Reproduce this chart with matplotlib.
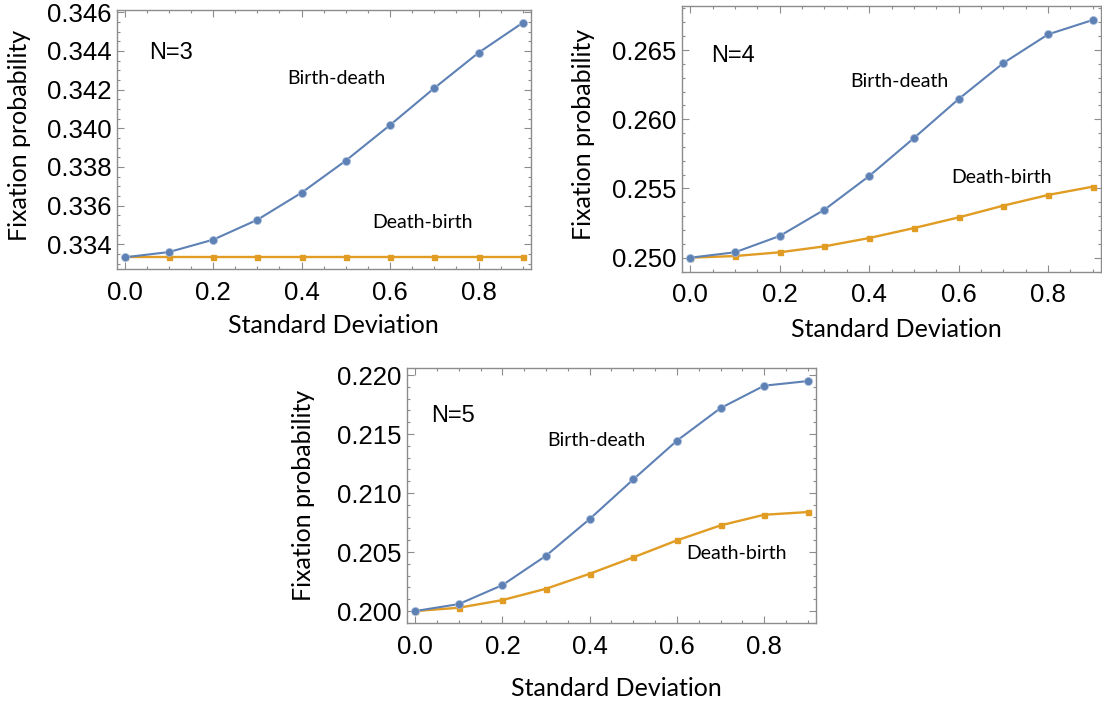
import matplotlib
matplotlib.use("Agg")
import matplotlib.pyplot as plt
from matplotlib.ticker import MultipleLocator, FormatStrFormatter

# standard deviation of the fitness distribution
sd = [0.0, 0.1, 0.2, 0.3, 0.4, 0.5, 0.6, 0.7, 0.8, 0.9]

# fixation probability
bd_n3 = [0.33333, 0.33360, 0.33424, 0.33527, 0.33667, 0.33833, 0.34017, 0.34208, 0.34391, 0.34546]
db_n3 = [0.33333] * 10

bd_n4 = [0.25000, 0.25039, 0.25157, 0.25347, 0.25590, 0.25864, 0.26146, 0.26406, 0.26613, 0.26717]
db_n4 = [0.25000, 0.25012, 0.25039, 0.25082, 0.25142, 0.25214, 0.25291, 0.25376, 0.25453, 0.25513]

bd_n5 = [0.20000, 0.20059, 0.20220, 0.20469, 0.20780, 0.21116, 0.21444, 0.21720, 0.21910, 0.21949]
db_n5 = [0.20000, 0.20028, 0.20093, 0.20189, 0.20316, 0.20455, 0.20599, 0.20726, 0.20816, 0.20839]

BLUE = "#5E81B5"
ORANGE = "#E19C24"
FRAME = "#8c8c8c"
TICK_FONT = "Liberation Sans"
LABEL_FONT = "Lato"


def draw_panel(ax, bd, db, name, ylim, ymajor, yminor, spots, xlab, ylab):
    ax.plot(sd, bd, color=BLUE, lw=1.5, marker="o", ms=5.8,
            mfc=BLUE, mec="#a9bddb", mew=0.5, zorder=3)
    ax.plot(sd, db, color=ORANGE, lw=1.7, marker="s", ms=3.6,
            mfc=ORANGE, mec=ORANGE, zorder=2)
    ax.set_xlim(-0.018, 0.918)
    ax.set_ylim(*ylim)

    ax.xaxis.set_major_locator(MultipleLocator(0.2))
    ax.xaxis.set_minor_locator(MultipleLocator(0.05))
    ax.yaxis.set_major_locator(MultipleLocator(ymajor))
    ax.yaxis.set_minor_locator(MultipleLocator(yminor))
    ax.xaxis.set_major_formatter(FormatStrFormatter("%.1f"))
    ax.yaxis.set_major_formatter(FormatStrFormatter("%.3f"))

    ax.tick_params(which="both", direction="in", top=True, right=True,
                   color=FRAME, width=0.8, labelcolor="black")
    ax.tick_params(which="major", length=5, labelsize=18.5)
    ax.tick_params(which="minor", length=2.5)
    ax.tick_params(axis="x", which="major", pad=8.5)
    ax.tick_params(axis="y", which="major", pad=4)
    for lab in ax.get_xticklabels() + ax.get_yticklabels():
        lab.set_family(TICK_FONT)
    for sp in ax.spines.values():
        sp.set_color(FRAME)
        sp.set_linewidth(1.0)

    ax.set_xlabel("Standard Deviation", family=LABEL_FONT, fontsize=18, va="center")
    ax.set_ylabel("Fixation probability", family=LABEL_FONT, fontsize=18, va="center")
    ax.xaxis.set_label_coords(*xlab)
    ax.yaxis.set_label_coords(*ylab)

    (nx, ny), (bx, by), (dx, dy) = spots
    ax.text(nx, ny, name, transform=ax.transAxes, family=TICK_FONT,
            fontsize=17, ha="center", va="center")
    ax.text(bx, by, "Birth-death", transform=ax.transAxes, family=LABEL_FONT,
            fontsize=14, ha="center", va="center")
    ax.text(dx, dy, "Death-birth", transform=ax.transAxes, family=LABEL_FONT,
            fontsize=14, ha="center", va="center")


def main():
    fig = plt.figure(figsize=(11.02, 7.04), dpi=100)
    ax1 = fig.add_axes([0.1059, 0.6175, 0.3757, 0.3683])
    ax2 = fig.add_axes([0.6191, 0.6141, 0.3799, 0.3774])
    ax3 = fig.add_axes([0.3696, 0.1146, 0.3706, 0.3622])

    draw_panel(ax1, bd_n3, db_n3, "N=3", (0.33271, 0.34612), 0.002, 0.0005,
               [(0.130, 0.834), (0.530, 0.734), (0.739, 0.180)],
               (0.524, -0.215), (-0.234, 0.518))
    draw_panel(ax2, bd_n4, db_n4, "N=4", (0.24899, 0.26818), 0.005, 0.001,
               [(0.121, 0.812), (0.518, 0.715), (0.762, 0.354)],
               (0.512, -0.219), (-0.236, 0.515))
    draw_panel(ax3, bd_n5, db_n5, "N=5", (0.19896, 0.22057), 0.005, 0.001,
               [(0.112, 0.814), (0.4625, 0.716), (0.807, 0.2745)],
               (0.513, -0.255), (-0.255, 0.503))

    fig.savefig("out.png", dpi=100)


if __name__ == "__main__":
    main()
